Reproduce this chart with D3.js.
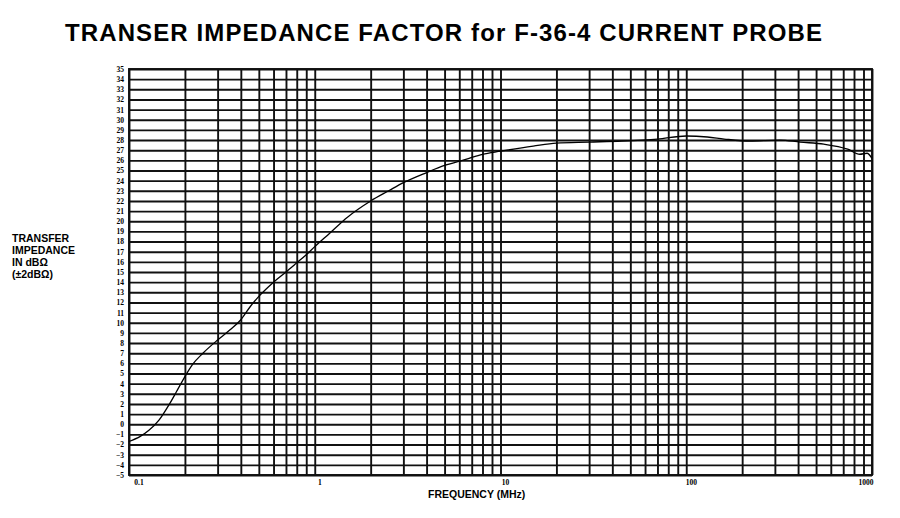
<!DOCTYPE html>
<html lang="en">
<head>
  <meta charset="UTF-8">
  <title>Transfer Impedance Factor</title>
  <style>
    * { margin: 0; box-sizing: border-box; }
    body { background: #fff; width: 900px; height: 518px; overflow: hidden; }
    svg { display: block; }
    .title { font: bold 24px "Liberation Sans", Arial, sans-serif; fill: #000; }
    .ylab { font: bold 10.5px "Liberation Sans", Arial, sans-serif; fill: #000; }
    .xlab { font: bold 10.5px "Liberation Sans", Arial, sans-serif; fill: #000; }
    .grid line { stroke: #111; stroke-width: 1.9; }
    .grid path { display: none; }
    .grid .tick text, .xtick { font: bold 7.5px "Liberation Serif", "DejaVu Serif", serif; fill: #000; }
    .curve { fill: none; stroke: #000; stroke-width: 1.3; }
  </style>
</head>
<body>
  <svg></svg>
  <script src="https://d3js.org/d3.v7.min.js"></script>
  <script>
    // frequency in MHz and transfer impedance in dB ohm
    const freqs = [0.1, 0.115, 0.128, 0.145, 0.164, 0.18, 0.2, 0.22, 0.25, 0.3, 0.35, 0.4, 0.45, 0.5,
      0.6, 0.7, 0.8, 0.9, 1, 1.2, 1.5, 2, 2.5, 3, 4, 5, 6.5, 8, 10, 15, 20, 30, 45, 70, 100, 130,
      160, 220, 320, 410, 550, 740, 860, 940, 1000];
    const dbs = [-1.7, -1.2, -0.6, 0.4, 1.9, 3.2, 4.7, 5.9, 7.0, 8.3, 9.3, 10.3, 11.6, 12.6,
      14.0, 15.0, 15.9, 16.7, 17.5, 18.8, 20.4, 22.0, 23.0, 23.8, 24.8, 25.5, 26.1, 26.6, 26.9, 27.4, 27.7, 27.8, 27.9, 28.1, 28.4, 28.3,
      28.1, 27.9, 28.0, 27.8, 27.6, 27.1, 26.6, 26.7, 26.2];

    const xLabelValues = [0.1, 1, 10, 100, 1000];
    const xLabels = ['0.1', '1', '10', '100', '1000'];
    const yTicks = d3.range(-5, 36, 1);

    const W = 900, H = 518;
    const mLeft = 129, mRight = 872, mTop = 69, mBottom = 475;

    const svg = d3.select('svg').attr('width', W).attr('height', H);

    const x = d3.scaleLog().domain([0.1, 1000]).range([mLeft, mRight]);
    const y = d3.scaleLinear().domain([-5, 35]).range([mBottom, mTop]);

    // horizontal grid + y labels
    svg.append('g')
      .attr('class', 'grid')
      .attr('transform', 'translate(' + mLeft + ',0)')
      .call(d3.axisLeft(y).tickValues(yTicks).tickSize(-(mRight - mLeft)).tickPadding(5)
        .tickFormat(d => d < 0 ? '\u2212' + Math.abs(d) : d));

    // vertical grid (1..9 per decade)
    svg.append('g')
      .attr('class', 'grid')
      .attr('transform', 'translate(0,' + mBottom + ')')
      .call(d3.axisBottom(x).tickValues(x.ticks()).tickSize(-(mBottom - mTop)).tickFormat(''));

    // frame
    svg.append('rect')
      .attr('x', mLeft).attr('y', mTop)
      .attr('width', mRight - mLeft).attr('height', mBottom - mTop)
      .attr('fill', 'none').attr('stroke', '#111').attr('stroke-width', 1.9);

    // decade labels
    svg.append('g').selectAll('text')
      .data(xLabelValues)
      .enter().append('text')
      .attr('class', 'xtick')
      .attr('x', (d, i) => x(d) + (i === 0 ? 10 : i === xLabels.length - 1 ? -6 : 5))
      .attr('y', mBottom + 10)
      .attr('text-anchor', 'middle')
      .text((d, i) => xLabels[i]);

    // curve
    const line = d3.line()
      .x(d => x(d[0]))
      .y(d => y(d[1]))
      .curve(d3.curveMonotoneX);

    svg.append('path')
      .attr('class', 'curve')
      .attr('d', line(freqs.map((f, i) => [f, dbs[i]])));

    // titles
    svg.append('text')
      .attr('class', 'title')
      .attr('x', 65).attr('y', 41)
      .attr('textLength', 757)
      .attr('lengthAdjust', 'spacing')
      .text('TRANSER IMPEDANCE FACTOR for F-36-4 CURRENT PROBE');

    const ylab = svg.append('text').attr('class', 'ylab');
    ['TRANSFER', 'IMPEDANCE', 'IN dB\u03A9', '(\u00B12dB\u03A9)'].forEach((t, i) => {
      ylab.append('tspan').attr('x', 12).attr('y', 242 + i * 12).text(t);
    });

    svg.append('text')
      .attr('class', 'xlab')
      .attr('x', 428).attr('y', 498)
      .text('FREQUENCY (MHz)');
  </script>
</body>
</html>
